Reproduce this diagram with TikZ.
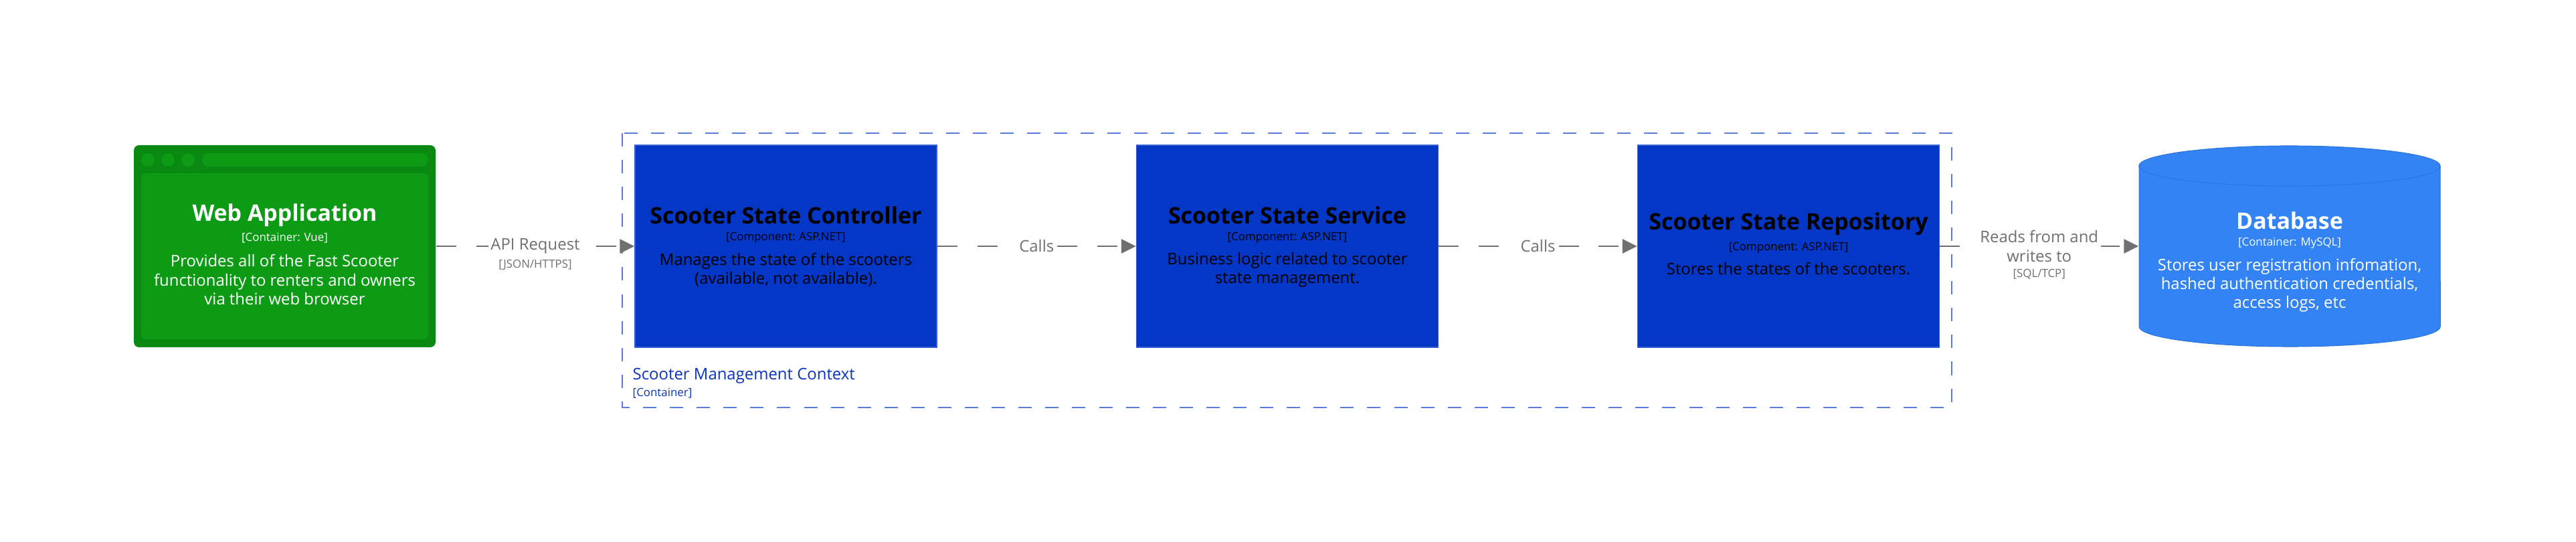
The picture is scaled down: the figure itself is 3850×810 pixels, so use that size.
\documentclass[tikz,border=0pt]{standalone}
\usepackage{fontspec}
\setmainfont{Open Sans}
\usepackage{xcolor}
\usetikzlibrary{positioning, arrows.meta}

\definecolor{webgreen}{HTML}{0A8912}
\definecolor{weblight}{HTML}{0D9B15}
\definecolor{compblue}{HTML}{0537C6}
\definecolor{dbblue}{HTML}{3383F5}
\definecolor{dbedge}{HTML}{2C74DE}
\definecolor{relgray}{HTML}{707070}
\definecolor{ctxline}{HTML}{5A7BDD}
\definecolor{ctxtext}{HTML}{0A33BE}

\tikzset{
  comp/.style={rectangle, fill=compblue, draw=compblue!80!white, line width=0.4pt, minimum width=4.51cm, minimum height=3.02cm, inner sep=0pt},
  ghost/.style={rectangle, minimum width=4.51cm, minimum height=3.02cm, inner sep=0pt},
  ttl/.style={font=\fontsize{9.65}{12}\selectfont\bfseries, inner sep=0pt},
  meta/.style={font=\fontsize{4.8}{6}\selectfont, inner sep=0pt},
  desc/.style={font=\fontsize{6.8}{8}\selectfont, align=center, inner sep=0pt},
  rel/.style={draw=relgray, line width=0.6pt, dash pattern=on 8.5pt off 8.5pt, -{Triangle[length=6.2pt,width=6pt]}},
  rellbl/.style={fill=white, text=relgray, font=\fontsize{6.8}{8}\selectfont, align=center, inner sep=1pt},
  reltech/.style={text=relgray, font=\fontsize{4.8}{6}\selectfont, inner sep=1pt}
}

\begin{document}
\begin{tikzpicture}[x=0.01cm, y=-0.01cm]
        \useasboundingbox (0,0) rectangle (3850,810);
        \fill[white] (0,0) rectangle (3850,810);

        % Draw web application window
        \fill[webgreen, rounded corners=0.08cm] (200,217) rectangle (651,519);
        \fill[weblight, rounded corners=0.06cm] (211,259) rectangle (640,507);
        \fill[weblight, rounded corners=0.1cm] (302,229) rectangle (640,249);
        \foreach \dx in {221,251,281}
            \fill[weblight] (\dx,239) circle[radius=0.1cm];
        \node[ghost] (web) at (425.5,368) {};
        \node[ttl, text=white] (web-t) at (425.5,322) {Web Application};
        \node[meta, text=white] (web-m) at (425.5,356) {[Container: Vue]};
        \node[desc, text=white] (web-d) at (425.5,418) {Provides all of the Fast Scooter\\functionality to renters and owners\\via their web browser};

        % Draw dashed context boundary and label
        \draw[ctxline, line width=0.6pt, dash pattern=on 5.7pt off 5.7pt] (930,199) rectangle (2917,609);
        \node[anchor=west, text=ctxtext, font=\fontsize{6.8}{8}\selectfont, inner sep=0pt] (ctx-t) at (945,562) {Scooter Management Context};
        \node[anchor=west, text=ctxtext, font=\fontsize{4.8}{6}\selectfont, inner sep=0pt] (ctx-m) at (945,588) {[Container]};

        % Draw components
        \node[comp] (ctrl) at (1174.5,368) {};
        \node[ttl] (ctrl-t) at (1174.5,322) {Scooter State Controller};
        \node[meta] (ctrl-m) at (1174.5,355) {[Component: ASP.NET]};
        \node[desc] (ctrl-d) at (1174.5,403) {Manages the state of the scooters\\(available, not available).};

        \node[comp] (svc) at (1924,368) {};
        \node[ttl] (svc-t) at (1924,322) {Scooter State Service};
        \node[meta] (svc-m) at (1924,355) {[Component: ASP.NET]};
        \node[desc] (svc-d) at (1924,403) {Business logic related to scooter\\state management.};

        \node[comp] (repo) at (2673,368) {};
        \node[ttl] (repo-t) at (2673,335) {Scooter State Repository};
        \node[meta] (repo-m) at (2673,370) {[Component: ASP.NET]};
        \node[desc] (repo-d) at (2673,402) {Stores the states of the scooters.};

        % Draw database cylinder
        \filldraw[fill=dbblue, draw=dbedge, line width=0.3pt] (3197,248) -- (3197,488)
            arc[start angle=180, end angle=360, x radius=2.25cm, y radius=0.3cm] -- (3647,248)
            arc[start angle=0, end angle=180, x radius=2.25cm, y radius=0.3cm] -- cycle;
        \draw[dbedge, line width=0.3pt] (3197,248) arc[start angle=180, end angle=360, x radius=2.25cm, y radius=0.3cm];
        \node[ghost, minimum width=4.5cm] (db) at (3422,368) {};
        \node[ttl, text=white] (db-t) at (3422,330) {Database};
        \node[meta, text=white] (db-m) at (3422,363) {[Container: MySQL]};
        \node[desc, text=white] (db-d) at (3422,426) {Stores user registration infomation,\\hashed authentication credentials,\\access logs, etc};

        % Draw relationships
        \draw[rel] (web) -- node[midway, rellbl] (api) {API Request}
            node[midway, reltech, yshift=-0.28cm] (api-t) {[JSON/HTTPS]} (ctrl);
        \draw[rel] (ctrl) -- node[midway, rellbl] (call1) {Calls} (svc);
        \draw[rel] (svc) -- node[midway, rellbl] (call2) {Calls} (repo);
        \draw[rel] (repo) -- node[midway, rellbl] (rw) {Reads from and\\writes to}
            node[midway, reltech, yshift=-0.42cm] (rw-t) {[SQL/TCP]} (db);
    \end{tikzpicture}
\end{document}
